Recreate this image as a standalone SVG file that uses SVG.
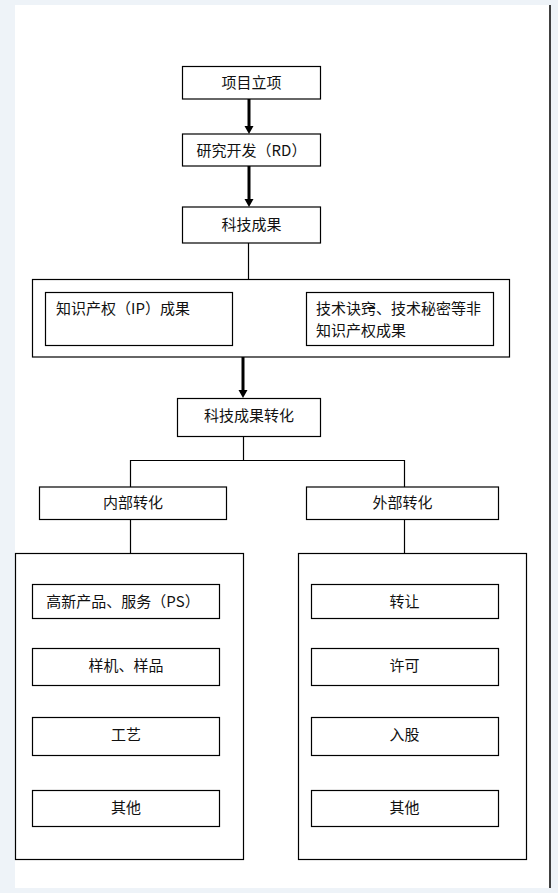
<svg xmlns="http://www.w3.org/2000/svg" width="558" height="893" viewBox="0 0 558 893">
<style>
.box{fill:#fff;stroke:#000;stroke-width:1.2}
.t{font-family:"Noto Sans CJK SC","Noto Sans",sans-serif;font-size:15px;fill:#111}
.c{text-anchor:middle}
.ln{stroke:#000;stroke-width:1.2;fill:none}
.ar{stroke:#000;stroke-width:3;fill:none}
.ah{fill:#000}
</style>
<rect x="0" y="0" width="558" height="893" fill="#eef3f8"/>
<rect x="15" y="5" width="535" height="883" fill="#fff"/>
<line x1="550" y1="5" x2="550" y2="888" stroke="#000" stroke-width="1.5"/>

<g id="connectors">
<line class="ar" x1="249" y1="99" x2="249" y2="127"/>
<polygon class="ah" points="244.5,126 253.5,126 249,134"/>
<line class="ar" x1="249" y1="166" x2="249" y2="200"/>
<polygon class="ah" points="244.5,199 253.5,199 249,207"/>
<line class="ln" x1="248.5" y1="243" x2="248.5" y2="279.5"/>
<line class="ar" x1="243" y1="357" x2="243" y2="391"/>
<polygon class="ah" points="238.5,390 247.5,390 243,398"/>
<polyline class="ln" points="243.5,437 243.5,460.5"/>
<polyline class="ln" points="130.5,487 130.5,460.5 404.5,460.5 404.5,487"/>
<line class="ln" x1="130.5" y1="519" x2="130.5" y2="553.5"/>
<line class="ln" x1="404.5" y1="519" x2="404.5" y2="553.5"/>
</g>

<g id="n-xmlx">
<rect class="box" x="182.5" y="66.5" width="138" height="32.5"/>
<text class="t c" x="251.5" y="88">项目立项</text>
</g>
<g id="n-yjkf">
<rect class="box" x="182.5" y="134" width="138" height="32"/>
<text class="t c" x="251.5" y="155.5">研究开发（RD）</text>
</g>
<g id="n-kjcg">
<rect class="box" x="182.5" y="207" width="138" height="36"/>
<text class="t c" x="251.5" y="230">科技成果</text>
</g>
<g id="n-cg-group">
<rect class="box" x="32.5" y="279.5" width="477" height="77.5"/>
</g>
<g id="n-ip">
<rect class="box" x="45.5" y="292.5" width="187" height="53"/>
<text class="t" x="56" y="314">知识产权（IP）成果</text>
</g>
<g id="n-nonip">
<rect class="box" x="306.5" y="292.5" width="187" height="53"/>
<text class="t" x="316" y="314">技术诀窍、技术秘密等非</text>
<text class="t" x="316" y="336">知识产权成果</text>
</g>
<g id="n-zh">
<rect class="box" x="177.5" y="398.5" width="143" height="38"/>
<text class="t c" x="249" y="420.5">科技成果转化</text>
</g>
<g id="n-nbzh">
<rect class="box" x="39.5" y="487" width="187" height="32.5"/>
<text class="t c" x="133" y="507.5">内部转化</text>
</g>
<g id="n-wbzh">
<rect class="box" x="306.5" y="487" width="192" height="32.5"/>
<text class="t c" x="402.5" y="507.5">外部转化</text>
</g>
<g id="n-internal-group">
<rect class="box" x="15.5" y="553.5" width="228" height="306"/>
</g>
<g id="n-ps">
<rect class="box" x="32.5" y="584.5" width="187" height="34"/>
<text class="t c" x="123" y="607">高新产品、服务（PS）</text>
</g>
<g id="n-yj">
<rect class="box" x="32.5" y="648.5" width="187" height="37"/>
<text class="t c" x="126" y="670.5">样机、样品</text>
</g>
<g id="n-gy">
<rect class="box" x="32.5" y="717.5" width="187" height="38"/>
<text class="t c" x="126" y="740">工艺</text>
</g>
<g id="n-qt1">
<rect class="box" x="32.5" y="790.5" width="187" height="36"/>
<text class="t c" x="126" y="812.5">其他</text>
</g>
<g id="n-external-group">
<rect class="box" x="298.5" y="553.5" width="228" height="306"/>
</g>
<g id="n-zr">
<rect class="box" x="311.5" y="584.5" width="187" height="34"/>
<text class="t c" x="404.5" y="607">转让</text>
</g>
<g id="n-xk">
<rect class="box" x="311.5" y="648.5" width="187" height="37"/>
<text class="t c" x="404.5" y="670.5">许可</text>
</g>
<g id="n-rg">
<rect class="box" x="311.5" y="717.5" width="187" height="38"/>
<text class="t c" x="404.5" y="740">入股</text>
</g>
<g id="n-qt2">
<rect class="box" x="311.5" y="790.5" width="187" height="36"/>
<text class="t c" x="404.5" y="812.5">其他</text>
</g>
</svg>
